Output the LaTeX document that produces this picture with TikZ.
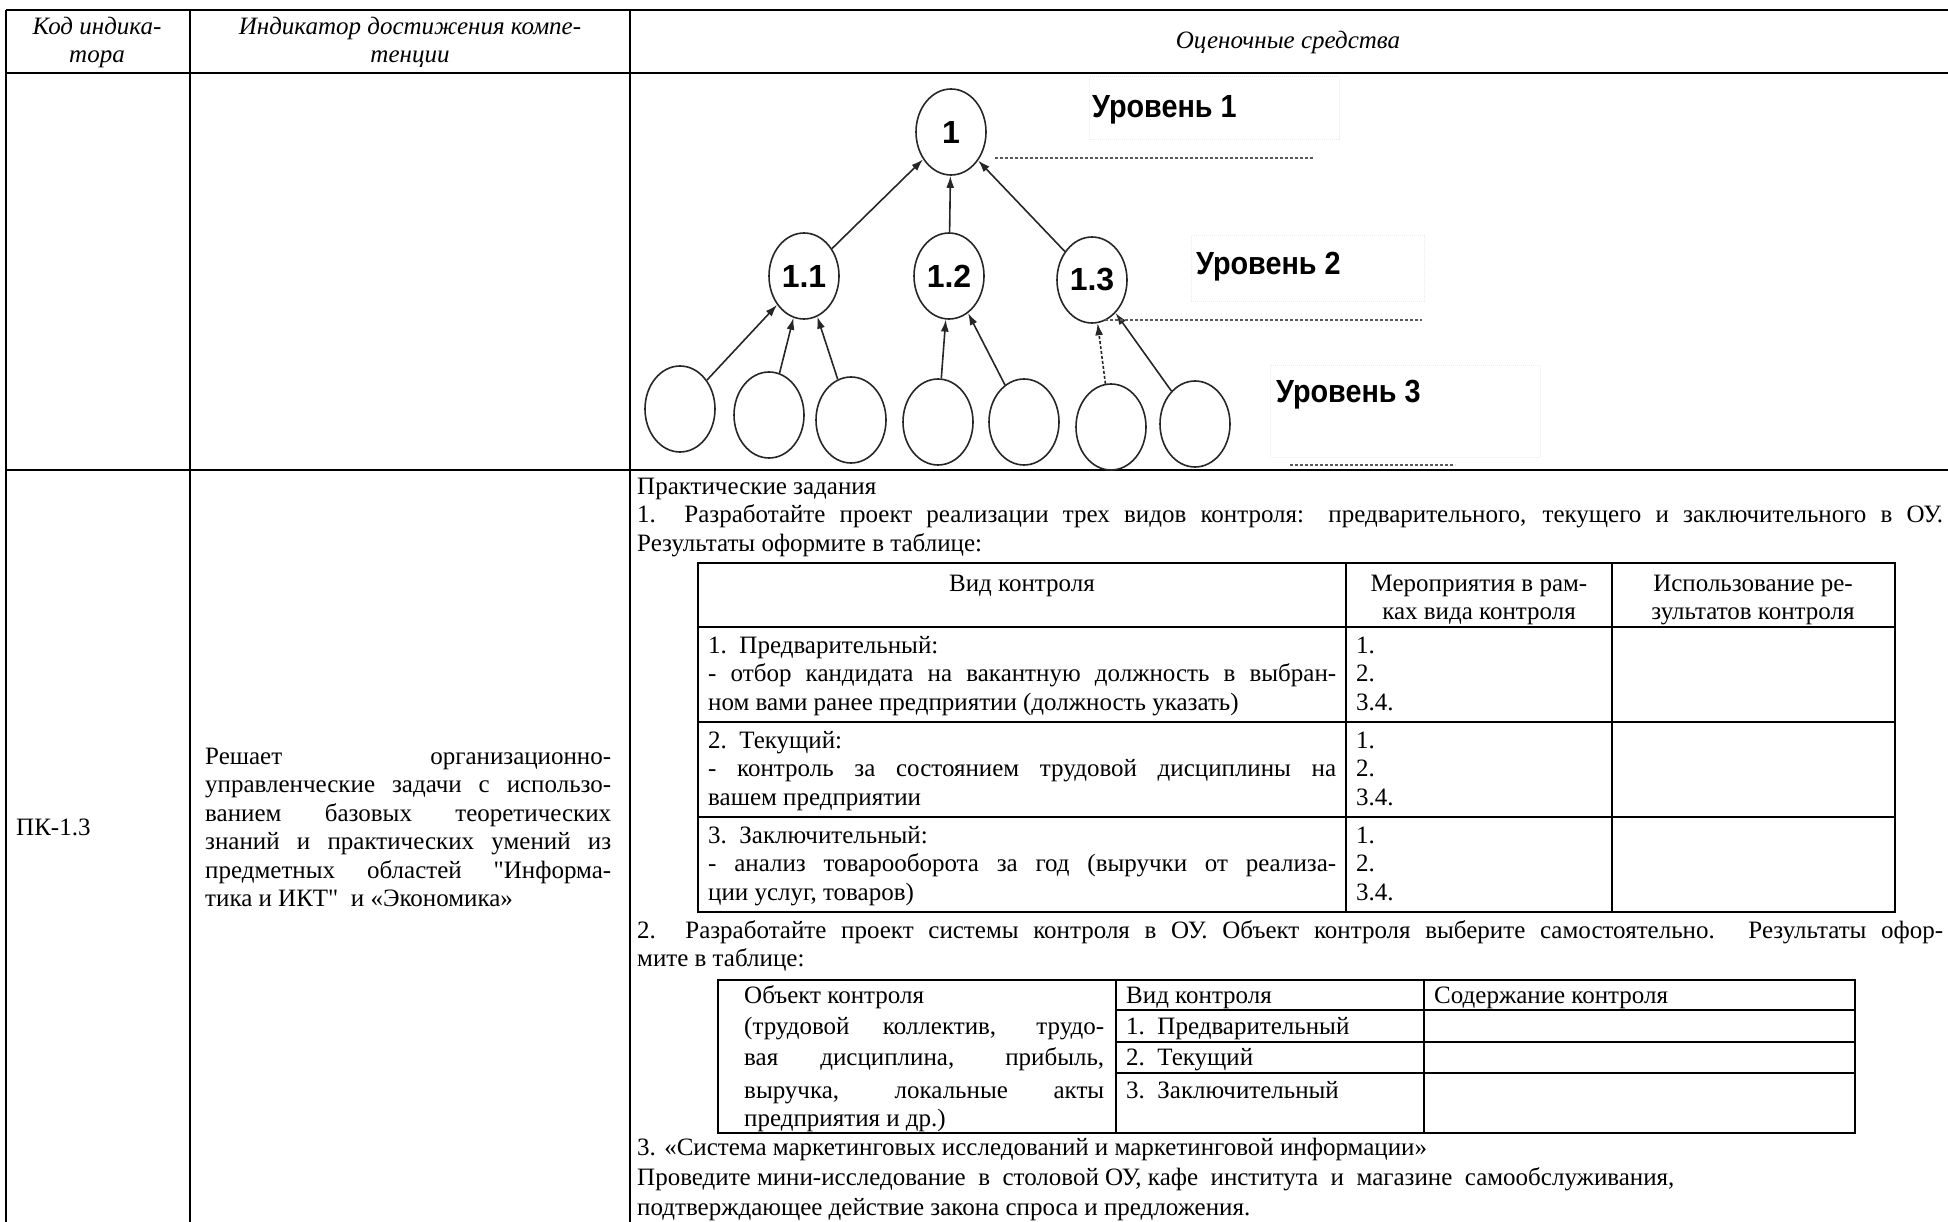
\documentclass[tikz,border=0pt]{standalone}
\usepackage{fontspec}
\setmainfont{Liberation Serif}[Ligatures=TeXOff]
\setsansfont{Liberation Sans}
\usepackage{tikz}
\usetikzlibrary{shapes.geometric,arrows.meta}
\newcommand{\bodyfont}{\fontsize{25}{28.5}\selectfont}
\newcommand{\jl}[2]{\makebox[#1pt][s]{#2}}
\tikzstyle{lvl}=[ellipse,draw=black!85,line width=1.6pt,minimum width=70pt,minimum height=86pt,inner sep=0pt,font=\sffamily\bfseries\fontsize{32}{32}\selectfont]
\tikzstyle{toparent}=[-{Latex[length=12pt,width=8pt]},line width=1.6pt,draw=black!85]
\tikzstyle{lvltag}=[anchor=west,inner sep=0pt,font=\sffamily\bfseries\fontsize{32}{32}\selectfont]
\tikzstyle{lvlsep}=[densely dashed,line width=1.6pt,draw=black!65]
\tikzstyle{ghost}=[densely dotted,line width=1pt,draw=black!8]
\tikzstyle{tabrule}=[line width=2.2pt]
\tikzstyle{txtl}=[anchor=base west,inner sep=0pt,font=\bodyfont]
\tikzstyle{txtc}=[anchor=base,inner sep=0pt,font=\bodyfont]
\tikzstyle{hdr}=[anchor=base,inner sep=0pt,font=\bodyfont\itshape]

\begin{document}
\begin{tikzpicture}[x=1pt,y=-1pt]
        \useasboundingbox (0,0) rectangle (1948,1222);
        % outer table
        \draw[tabrule] (6,10) -- (1948,10);
        \draw[tabrule] (6,73) -- (1948,73);
        \draw[tabrule] (6,470) -- (1948,470);
        \draw[tabrule] (6,10) -- (6,1222);
        \draw[tabrule] (190,10) -- (190,1222);
        \draw[tabrule] (630,10) -- (630,1222);
        \node[hdr] (h1a) at (97,35) {Код индика-};
        \node[hdr] (h1b) at (97,63) {тора};
        \node[hdr] (h2a) at (410,35) {Индикатор достижения компе-};
        \node[hdr] (h2b) at (410,63) {тенции};
        \node[hdr] (h3) at (1288,49) {Оценочные средства};
        % tree of levels
        \draw[ghost] (1089,77) rectangle (1339,140);
        \draw[ghost] (1191,236) rectangle (1424,302);
        \draw[ghost] (1270,365) rectangle (1540,457);
        \node[lvl] (n1) at (951,132) {1};
        \node[lvl] (n11) at (804,276) {1.1};
        \node[lvl] (n12) at (949,276) {1.2};
        \node[lvl] (n13) at (1092,280) {1.3};
        \node[lvl] (n111) at (680,409) {};
        \node[lvl] (n112) at (769,415) {};
        \node[lvl] (n113) at (851,420) {};
        \node[lvl] (n121) at (938,422) {};
        \node[lvl] (n122) at (1024,422) {};
        \node[lvl] (n131) at (1111,427) {};
        \node[lvl] (n132) at (1195,424) {};
        \draw[toparent] (n11) -- (n1);
        \draw[toparent] (n12) -- (n1);
        \draw[toparent] (n13) -- (n1);
        \draw[toparent] (n111) -- (n11);
        \draw[toparent] (n112) -- (n11);
        \draw[toparent] (n113) -- (n11);
        \draw[toparent] (n121) -- (n12);
        \draw[toparent] (n122) -- (n12);
        \draw[toparent,densely dashed] (n131) -- (n13);
        \draw[toparent] (n132) -- (n13);
        \node[lvltag] (u1) at (1092,110) {\scalebox{.9}[1]{Уровень 1}};
        \node[lvltag] (u2) at (1196,267) {\scalebox{.9}[1]{Уровень 2}};
        \node[lvltag] (u3) at (1276,395) {\scalebox{.9}[1]{Уровень 3}};
        \draw[lvlsep] (995,158) -- (1314,158);
        \draw[lvlsep] (1105,320) -- (1422,320);
        \draw[lvlsep] (1290,465) -- (1455,465);
        % indicator
        \node[txtl] (pk) at (16,835) {ПК-1.3};
        \node[txtl] (d1) at (205,764) {\jl{406}{Решает организационно-}};
        \node[txtl] (d2) at (205,792.5) {\jl{406}{управленческие задачи с использо-}};
        \node[txtl] (d3) at (205,821) {\jl{406}{ванием базовых теоретических}};
        \node[txtl] (d4) at (205,849.5) {\jl{406}{знаний и практических умений из}};
        \node[txtl] (d5) at (205,878) {\jl{406}{предметных областей "Информа-}};
        \node[txtl] (d6) at (205,906.5) {тика и ИКТ"\ \ и «Экономика»};
        % tasks
        \node[txtl] (p0) at (637,494) {Практические задания};
        \node[txtl] (p1) at (637,522.5) {\jl{1306}{1.\ \ Разработайте проект реализации трех видов контроля: предварительного, текущего и заключительного в ОУ.}};
        \node[txtl] (p2) at (637,551) {Результаты оформите в таблице:};
        \draw[tabrule] (698,563) rectangle (1895,912);
        \draw[tabrule] (698,627) -- (1895,627);
        \draw[tabrule] (698,722) -- (1895,722);
        \draw[tabrule] (698,817) -- (1895,817);
        \draw[tabrule] (1346,563) -- (1346,912);
        \draw[tabrule] (1612,563) -- (1612,912);
        \node[txtc] (k1) at (1022,591) {Вид контроля};
        \node[txtc] (k2a) at (1479,591) {Мероприятия в рам-};
        \node[txtc] (k2b) at (1479,619) {ках вида контроля};
        \node[txtc] (k3a) at (1753,591) {Использование ре-};
        \node[txtc] (k3b) at (1753,619) {зультатов контроля};
        \node[txtl] (r1a) at (708,653) {1.\ \ Предварительный:};
        \node[txtl] (r1b) at (708,681.5) {\jl{628}{- отбор кандидата на вакантную должность в выбран-}};
        \node[txtl] (r1c) at (708,710) {ном вами ранее предприятии (должность указать)};
        \node[txtl] (m1a) at (1356,653) {1.};
        \node[txtl] (m1b) at (1356,681.5) {2.};
        \node[txtl] (m1c) at (1356,710) {3.4.};
        \node[txtl] (r2a) at (708,748) {2.\ \ Текущий:};
        \node[txtl] (r2b) at (708,776.5) {\jl{628}{- контроль за состоянием трудовой дисциплины на}};
        \node[txtl] (r2c) at (708,805) {вашем предприятии};
        \node[txtl] (m2a) at (1356,748) {1.};
        \node[txtl] (m2b) at (1356,776.5) {2.};
        \node[txtl] (m2c) at (1356,805) {3.4.};
        \node[txtl] (r3a) at (708,843) {3.\ \ Заключительный:};
        \node[txtl] (r3b) at (708,871.5) {\jl{628}{- анализ товарооборота за год (выручки от реализа-}};
        \node[txtl] (r3c) at (708,900) {ции услуг, товаров)};
        \node[txtl] (m3a) at (1356,843) {1.};
        \node[txtl] (m3b) at (1356,871.5) {2.};
        \node[txtl] (m3c) at (1356,900) {3.4.};
        \node[txtl] (q1) at (637,938) {\jl{1306}{2.\ \ Разработайте проект системы контроля в ОУ. Объект контроля выберите самостоятельно. Результаты офор-}};
        \node[txtl] (q2) at (637,966.5) {мите в таблице:};
        \draw[tabrule] (718,980) rectangle (1855,1133);
        \draw[tabrule] (1116,980) -- (1116,1133);
        \draw[tabrule] (1424,980) -- (1424,1133);
        \draw[tabrule] (1116,1010) -- (1855,1010);
        \draw[tabrule] (1116,1042) -- (1855,1042);
        \draw[tabrule] (1116,1073) -- (1855,1073);
        \node[txtl] (o1) at (744,1003) {Объект контроля};
        \node[txtl] (o2) at (744,1034) {\jl{360}{(трудовой коллектив, трудо-}};
        \node[txtl] (o3) at (744,1065.5) {\jl{360}{вая дисциплина, прибыль,}};
        \node[txtl] (o4) at (744,1098) {\jl{360}{выручка, локальные акты}};
        \node[txtl] (o5) at (744,1126) {предприятия и др.)};
        \node[txtl] (v0) at (1126,1003) {Вид контроля};
        \node[txtl] (v1) at (1126,1034) {1.\ \ Предварительный};
        \node[txtl] (v2) at (1126,1065.5) {2.\ \ Текущий};
        \node[txtl] (v3) at (1126,1098) {3.\ \ Заключительный};
        \node[txtl] (s0) at (1434,1003) {Содержание контроля};
        \node[txtl] (b1) at (637,1155) {3. «Система маркетинговых исследований и маркетинговой информации»};
        \node[txtl] (b2) at (637,1185) {Проведите мини-исследование\ \ в\ \ столовой ОУ, кафе\ \ института\ \ и\ \ магазине\ \ самообслуживания,};
        \node[txtl] (b3) at (637,1215) {подтверждающее действие закона спроса и предложения.};
\end{tikzpicture}
\end{document}
